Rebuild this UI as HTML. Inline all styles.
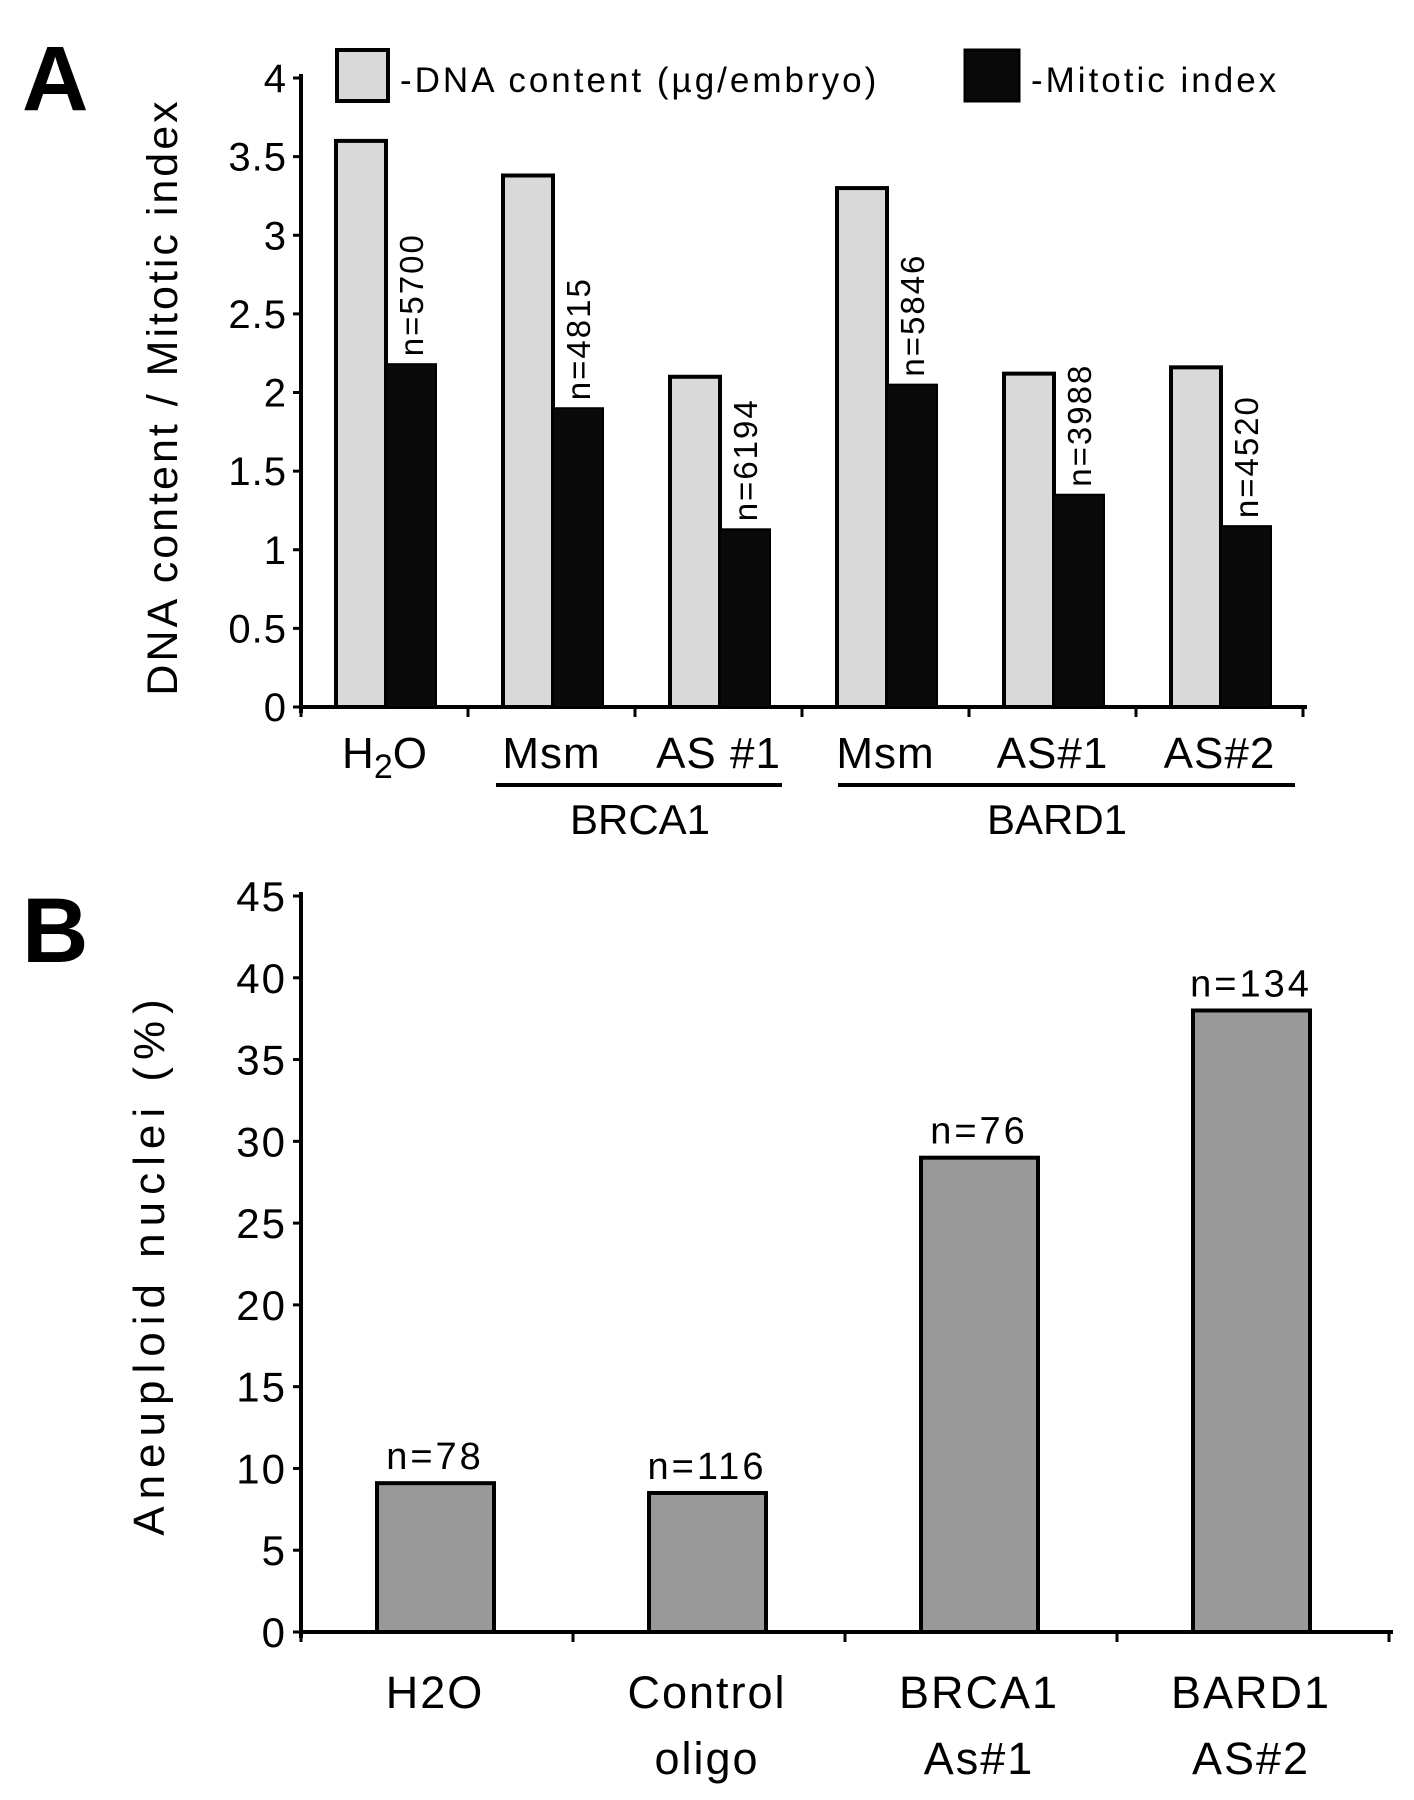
<!DOCTYPE html>
<html><head><meta charset="utf-8"><style>
html,body{margin:0;padding:0;background:#fff;}
svg{display:block;font-family:"Liberation Sans",sans-serif;}
</style></head><body>
<svg id="fig" width="1414" height="1800" viewBox="0 0 1414 1800">
<text x="22" y="110" font-size="92" font-weight="bold">A</text>
<text x="22" y="962" font-size="92" font-weight="bold">B</text>
<g id="chartA"></g>
<g id="chartB"></g>
</svg>
<script>
const catsA = ["H2O","Msm","AS #1","Msm","AS#1","AS#2"];
const dnaA = [3.6, 3.38, 2.1, 3.3, 2.12, 2.16];
const mitA = [2.18, 1.9, 1.13, 2.05, 1.35, 1.15];
const nA = ["n=5700","n=4815","n=6194","n=5846","n=3988","n=4520"];
const ticksA = [0,0.5,1,1.5,2,2.5,3,3.5,4];
const catsB1 = ["H2O","Control","BRCA1","BARD1"];
const catsB2 = ["","oligo","As#1","AS#2"];
const valsB = [9.1, 8.5, 29, 38];
const nB = ["n=78","n=116","n=76","n=134"];
const ticksB = [0,5,10,15,20,25,30,35,40,45];

const NS="http://www.w3.org/2000/svg";
function mk(parent,tag,attrs,txt){const e=document.createElementNS(NS,tag);for(const k in attrs)e.setAttribute(k,attrs[k]);if(txt!==undefined)e.textContent=txt;parent.appendChild(e);return e;}

// Chart A
(function(){
const g=document.getElementById('chartA');
const x0=301,y0=707,yTop=78,gw=167,maxV=4;
const y=v=>y0-(v/maxV)*(y0-yTop);
const gx=i=>x0+i*gw;
let e;
e=mk(g,'line',{x1:x0,y1:y(4)-4,x2:x0,y2:y0+6,stroke:'#000','stroke-width':4});

e=mk(g,'line',{x1:x0-2,y1:y0,x2:x0+gw*6+4,y2:y0,stroke:'#000','stroke-width':4});

ticksA.forEach(t=>{
 e=mk(g,'line',{x1:x0-8,y1:y(t),x2:x0,y2:y(t),stroke:'#000','stroke-width':3});
 
 e=mk(g,'text',{x:x0-14,y:y(t)+14,'font-size':40,'text-anchor':'end','letter-spacing':1},String(t));
 
});
for(let i=0;i<=6;i++){e=mk(g,'line',{x1:gx(i),y1:y0,x2:gx(i),y2:y0+10,stroke:'#000','stroke-width':3});
 }
catsA.forEach((c,i)=>{
 e=mk(g,'rect',{x:gx(i)+35,y:y(dnaA[i]),width:50,height:y0-y(dnaA[i]),fill:'#d9d9d9',stroke:'#000','stroke-width':4});
 
 e=mk(g,'rect',{x:gx(i)+85,y:y(mitA[i]),width:50,height:y0-y(mitA[i]),fill:'#0a0a0a',stroke:'#000','stroke-width':2});
 
 const cx=gx(i)+110,by=y(mitA[i])-8;
 e=mk(g,'text',{x:cx+12,y:by,'font-size':33,transform:`rotate(-90 ${cx+12} ${by})`,'letter-spacing':2},nA[i]);
 
 if(c==='H2O'){
  e=mk(g,'text',{x:gx(i)+gw/2,y:768,'font-size':44,'text-anchor':'middle'});
  e.innerHTML='H<tspan dy="10" font-size="34">2</tspan><tspan dy="-10">O</tspan>';
 } else e=mk(g,'text',{x:gx(i)+gw/2,y:768,'font-size':44,'text-anchor':'middle','letter-spacing':1},c);
 
});
e=mk(g,'line',{x1:496,y1:785,x2:782,y2:785,stroke:'#000','stroke-width':4});

e=mk(g,'line',{x1:838,y1:785,x2:1295,y2:785,stroke:'#000','stroke-width':4});

e=mk(g,'text',{x:640,y:834,'font-size':42,'text-anchor':'middle'},'BRCA1');

e=mk(g,'text',{x:1057,y:834,'font-size':42,'text-anchor':'middle'},'BARD1');

e=mk(g,'text',{x:177,y:397,'font-size':43,'text-anchor':'middle','letter-spacing':3,transform:'rotate(-90 177 397)'},'DNA content / Mitotic index');

e=mk(g,'rect',{x:337,y:50,width:51,height:51,fill:'#d9d9d9',stroke:'#000','stroke-width':4});

e=mk(g,'text',{x:400,y:92,'font-size':35,'letter-spacing':3},'-DNA content (µg/embryo)');

e=mk(g,'rect',{x:965,y:50,width:54,height:51,fill:'#0a0a0a',stroke:'#000','stroke-width':3});

e=mk(g,'text',{x:1031,y:92,'font-size':35,'letter-spacing':3},'-Mitotic index');

})();

// Chart B
(function(){
const g=document.getElementById('chartB');
const x0=301,y0=1632,yTop=896,gw=272,maxV=45;
const y=v=>y0-(v/maxV)*(y0-yTop);
const gx=i=>x0+i*gw;
let e;
e=mk(g,'line',{x1:x0,y1:yTop-4,x2:x0,y2:y0+6,stroke:'#000','stroke-width':4});

e=mk(g,'line',{x1:x0-2,y1:y0,x2:x0+gw*4+4,y2:y0,stroke:'#000','stroke-width':4});

ticksB.forEach(t=>{
 e=mk(g,'line',{x1:x0-8,y1:y(t),x2:x0,y2:y(t),stroke:'#000','stroke-width':3});
 
 e=mk(g,'text',{x:x0-14,y:y(t)+15,'font-size':42,'text-anchor':'end','letter-spacing':2},String(t));
 
});
for(let i=0;i<=4;i++){e=mk(g,'line',{x1:gx(i),y1:y0,x2:gx(i),y2:y0+10,stroke:'#000','stroke-width':3});
 }
valsB.forEach((v,i)=>{
 e=mk(g,'rect',{x:gx(i)+76,y:y(v),width:117,height:y0-y(v),fill:'#999999',stroke:'#000','stroke-width':4});
 
 e=mk(g,'text',{x:gx(i)+134,y:y(v)-14,'font-size':38,'text-anchor':'middle','letter-spacing':3},nB[i]);
 
 e=mk(g,'text',{x:gx(i)+134,y:1708,'font-size':45,'text-anchor':'middle','letter-spacing':2},catsB1[i]);
 
 e=mk(g,'text',{x:gx(i)+134,y:1774,'font-size':45,'text-anchor':'middle','letter-spacing':2},catsB2[i]);
 
});
e=mk(g,'text',{x:164,y:1264,'font-size':44,'text-anchor':'middle','letter-spacing':7,transform:'rotate(-90 164 1264)'},'Aneuploid nuclei (%)');

})();
</script>
</body></html>
